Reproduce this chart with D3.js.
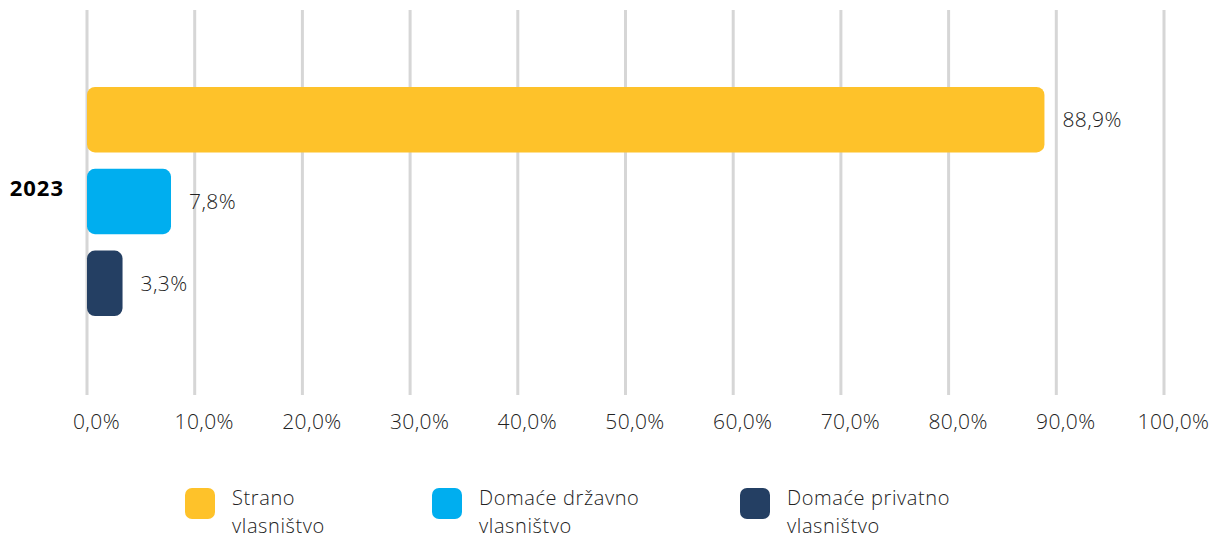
<!DOCTYPE html>
<html>
<head>
<meta charset="utf-8">
<script src="https://d3js.org/d3.v7.min.js"></script>
<style>
  body { margin: 0; background: #fff; }
  text { font-family: "Open Sans", "Lato", sans-serif; }
</style>
</head>
<body>
<script>
  var categories = ["2023"];
  var seriesNames = ["Strano vlasništvo", "Domaće državno vlasništvo", "Domaće privatno vlasništvo"];
  var legendLines = [["Strano", "vlasništvo"], ["Domaće državno", "vlasništvo"], ["Domaće privatno", "vlasništvo"]];
  var values2023 = [88.9, 7.8, 3.3];
  var colors = ["#fec22a", "#00aeef", "#243f63"];
  var xTicks = [0, 10, 20, 30, 40, 50, 60, 70, 80, 90, 100];

  var W = 1220, H = 539;
  var fmt = function(v) { return v.toFixed(1).replace(".", ",") + "%"; };

  var svg = d3.select("body").append("svg")
    .attr("width", W).attr("height", H);

  var x = d3.scaleLinear().domain([0, 100]).range([87, 1164]);
  var yCat = d3.scaleBand().domain(categories).range([87, 316]);
  var y = d3.scaleBand().domain(seriesNames).range([0, yCat.bandwidth()]).paddingInner(0.2);

  // grid lines
  svg.append("g").selectAll("line")
    .data(xTicks).enter().append("line")
    .attr("x1", function(d) { return x(d); })
    .attr("x2", function(d) { return x(d); })
    .attr("y1", 10).attr("y2", 395)
    .attr("stroke", "#d6d6d6").attr("stroke-width", 3);

  // x axis labels
  var xAxis = svg.append("g")
    .attr("transform", "translate(9,407)")
    .call(d3.axisBottom(x).tickValues(xTicks).tickSize(0).tickFormat(fmt));
  xAxis.select(".domain").remove();
  xAxis.selectAll("text")
    .attr("dy", "0.9em")
    .style("font-size", "21px")
    .style("letter-spacing", "0.4px")
    .style("font-weight", 300)
    .attr("fill", "#222");

  // category label
  var yAxis = svg.append("g")
    .attr("transform", "translate(64,-13)")
    .call(d3.axisLeft(yCat).tickSize(0));
  yAxis.select(".domain").remove();
  yAxis.selectAll("text")
    .attr("x", 0)
    .attr("dy", "0.35em")
    .style("font-size", "22px")
    .style("letter-spacing", "1px")
    .style("font-weight", 700)
    .attr("fill", "#000");

  var data = seriesNames.map(function(s, i) { return {name: s, value: values2023[i], color: colors[i]}; });

  var g = svg.append("g").attr("transform", "translate(0," + yCat("2023") + ")");

  g.selectAll("rect")
    .data(data).enter().append("rect")
    .attr("x", x(0))
    .attr("y", function(d) { return y(d.name); })
    .attr("width", function(d) { return x(d.value) - x(0); })
    .attr("height", y.bandwidth())
    .attr("rx", 8).attr("ry", 8)
    .attr("fill", function(d) { return d.color; });

  g.selectAll("text.val")
    .data(data).enter().append("text")
    .attr("class", "val")
    .attr("x", function(d) { return x(d.value) + 18; })
    .attr("y", function(d) { return y(d.name) + y.bandwidth() / 2; })
    .attr("dy", "0.35em")
    .style("font-size", "21px")
    .style("letter-spacing", "0.4px")
    .style("font-weight", 300)
    .attr("fill", "#222")
    .text(function(d) { return fmt(d.value); });

  // legend
  var legendX = [185, 432, 740];
  var leg = svg.append("g").selectAll("g")
    .data(legendLines).enter().append("g")
    .attr("transform", function(d, i) { return "translate(" + legendX[i] + ",488)"; });
  leg.append("rect")
    .attr("width", 30).attr("height", 31)
    .attr("rx", 7).attr("ry", 7)
    .attr("fill", function(d, i) { return colors[i]; });
  leg.each(function(lines) {
    var t = d3.select(this).append("text")
      .attr("x", 47).attr("y", 17)
      .style("font-size", "20px")
      .style("letter-spacing", "0.6px")
      .style("font-weight", 300)
      .attr("fill", "#222");
    lines.forEach(function(l, j) {
      t.append("tspan").attr("x", 47).attr("dy", j === 0 ? 0 : 28).text(l);
    });
  });
</script>
</body>
</html>
